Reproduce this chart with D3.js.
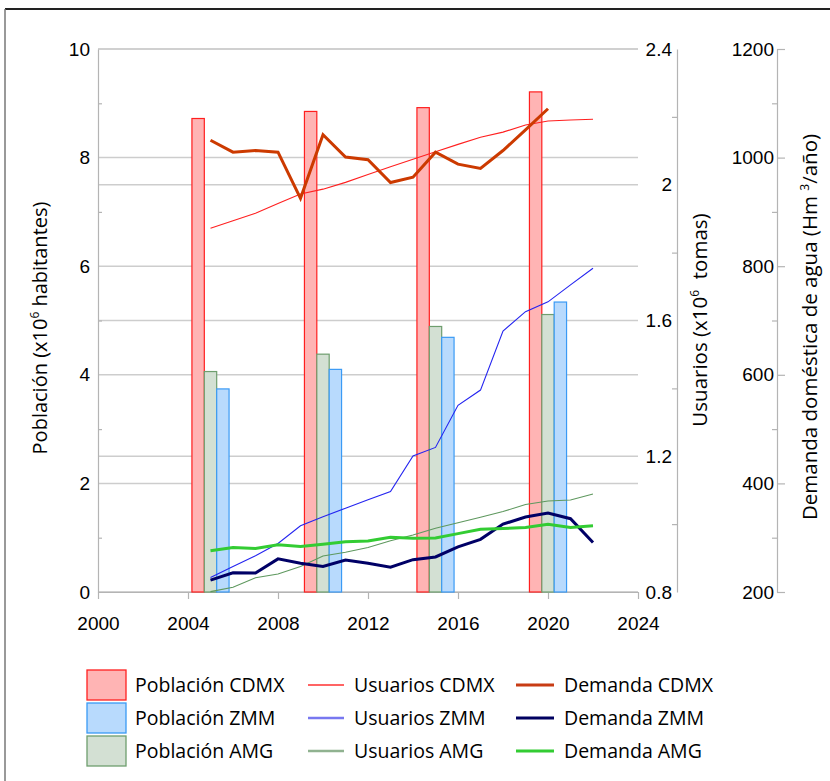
<!DOCTYPE html>
<html>
<head>
<meta charset="utf-8">
<script src="https://cdn.jsdelivr.net/npm/d3@7"></script>
<style>
  html, body { margin: 0; padding: 0; background: #fff; }
  svg { display: block; font-family: "Open Sans", "Noto Sans", sans-serif; }
  .tick text { fill: #000; }
</style>
</head>
<body>
<svg id="chart" width="830" height="781"></svg>
<script>
// Census years with population bars (millions of inhabitants)
const censusYears = [2005, 2010, 2015, 2020];
const poblacionCDMX = [8.72, 8.85, 8.92, 9.21];
const poblacionAMG  = [4.06, 4.38, 4.89, 5.11];
const poblacionZMM  = [3.74, 4.10, 4.69, 5.34];

// Yearly series
const years = [2005, 2006, 2007, 2008, 2009, 2010, 2011, 2012, 2013, 2014, 2015, 2016, 2017, 2018, 2019, 2020, 2021, 2022];
// Users (millions of water connections)
const usuariosCDMX = [1.872, 1.894, 1.916, 1.945, 1.973, 1.987, 2.007, 2.030, 2.053, 2.075, 2.097, 2.119, 2.140, 2.155, 2.176, 2.188, 2.191, 2.193];
const usuariosZMM  = [0.843, 0.875, 0.907, 0.943, 0.995, 1.022, 1.047, 1.072, 1.096, 1.201, 1.226, 1.350, 1.395, 1.569, 1.626, 1.655, 1.705, 1.754];
const usuariosAMG  = [0.801, 0.814, 0.842, 0.853, 0.875, 0.906, 0.917, 0.931, 0.951, 0.968, 0.988, 1.004, 1.020, 1.037, 1.058, 1.068, 1.071, 1.089];
// Domestic water demand (Hm3/year)
const demandaYearsCDMX = [2005, 2006, 2007, 2008, 2009, 2010, 2011, 2012, 2013, 2014, 2015, 2016, 2017, 2018, 2019, 2020];
const demandaCDMX = [1032, 1010, 1013, 1010, 925, 1042, 1001, 996, 954, 964, 1010, 988, 980, 1013, 1051, 1090];
const demandaZMM  = [222, 235.5, 235, 261, 253, 247, 259, 253, 245.5, 259.5, 264.5, 283, 297, 325, 338, 345.5, 335, 291];
const demandaAMG  = [276, 282, 280, 287, 284, 288, 292.6, 294, 301, 299, 299.5, 307.5, 315.5, 317, 319, 324.7, 319, 322];

// Tick values
const yearTicks = [2000, 2004, 2008, 2012, 2016, 2020, 2024];
const poblacionTicks = [0, 2, 4, 6, 8, 10];
const poblacionMinor = [1, 3, 5, 7, 9];
const usuariosTicks = [0.8, 1.2, 1.6, 2.0, 2.4];
const usuariosMinor = [1.0, 1.4, 1.8, 2.2];
const demandaTicks = [200, 400, 600, 800, 1000, 1200];
const demandaMinor = [300, 500, 700, 900, 1100];

const svg = d3.select("#chart");

// Layout
const plotLeft = 98, plotRight = 638, plotTop = 49, plotBottom = 592;
const usuAxisX = 677, demAxisX = 777;
const fontSize = 19;

const x = d3.scaleLinear().domain([2000, 2024]).range([plotLeft, plotRight]);
const yPob = d3.scaleLinear().domain([0, 10]).range([plotBottom, plotTop]);
const yUsu = d3.scaleLinear().domain([0.8, 2.4]).range([plotBottom, plotTop]);
const yDem = d3.scaleLinear().domain([200, 1200]).range([plotBottom, plotTop]);

// Outer frame
svg.append("line").attr("x1", 5).attr("x2", 830).attr("y1", 9).attr("y2", 9)
  .attr("stroke", "#222").attr("stroke-width", 2);
svg.append("line").attr("x1", 5).attr("x2", 5).attr("y1", 9).attr("y2", 781)
  .attr("stroke", "#777").attr("stroke-width", 1.5);

const gridColor = "#cdcdcd";
const axisColor = "#b4b4b4";

// Horizontal gridlines from the population and users scales
const grid = svg.append("g");
poblacionTicks.forEach(v => {
  grid.append("line").attr("x1", plotLeft).attr("x2", plotRight)
    .attr("y1", yPob(v)).attr("y2", yPob(v))
    .attr("stroke", gridColor).attr("stroke-width", 1.5);
});
usuariosTicks.forEach(v => {
  grid.append("line").attr("x1", plotLeft).attr("x2", plotRight)
    .attr("y1", yUsu(v)).attr("y2", yUsu(v))
    .attr("stroke", gridColor).attr("stroke-width", 1.5);
});

function styleAxis(g) {
  g.selectAll("path.domain").attr("stroke", axisColor).attr("stroke-width", 1.2);
  g.selectAll(".tick line").attr("stroke", axisColor).attr("stroke-width", 1.2);
  g.selectAll(".tick text").attr("font-size", fontSize).attr("font-family", null);
}

// Bottom axis (years)
const xAxis = svg.append("g").attr("transform", `translate(0,${plotBottom})`)
  .call(d3.axisBottom(x).tickValues(yearTicks).tickFormat(d3.format("d"))
    .tickSize(7).tickSizeOuter(0).tickPadding(18));
styleAxis(xAxis);
xAxis.selectAll(".tick text").attr("dy", "0.71em");

// Left axis (population)
const yAxisL = svg.append("g").attr("transform", `translate(${plotLeft},0)`)
  .call(d3.axisLeft(yPob).tickValues(poblacionTicks).tickFormat(d3.format("d"))
    .tickSize(0).tickPadding(8));
styleAxis(yAxisL);
const yAxisLMinor = svg.append("g").attr("transform", `translate(${plotLeft},0)`)
  .call(d3.axisRight(yPob).tickValues(poblacionMinor).tickFormat("").tickSize(4).tickSizeOuter(0));
styleAxis(yAxisLMinor);
yAxisLMinor.select("path.domain").remove();

// Users axis
const yAxisU = svg.append("g").attr("transform", `translate(${usuAxisX},0)`)
  .call(d3.axisLeft(yUsu).tickValues(usuariosTicks).tickFormat(d3.format(".1~f"))
    .tickSize(0).tickPadding(5));
styleAxis(yAxisU);
const yAxisUMinor = svg.append("g").attr("transform", `translate(${usuAxisX},0)`)
  .call(d3.axisLeft(yUsu).tickValues(usuariosMinor).tickFormat("").tickSize(5).tickSizeOuter(0));
styleAxis(yAxisUMinor);
yAxisUMinor.select("path.domain").remove();

// Demand axis
const yAxisD = svg.append("g").attr("transform", `translate(${demAxisX},0)`)
  .call(d3.axisLeft(yDem).tickValues(demandaTicks).tickFormat(d3.format("d"))
    .tickSizeInner(-8).tickSizeOuter(0).tickPadding(3));
styleAxis(yAxisD);
const yAxisDMinor = svg.append("g").attr("transform", `translate(${demAxisX},0)`)
  .call(d3.axisLeft(yDem).tickValues(demandaMinor).tickFormat("").tickSize(5).tickSizeOuter(0));
styleAxis(yAxisDMinor);
yAxisDMinor.select("path.domain").remove();

// Axis titles (rotated), with superscript exponents
function axisTitle(cx, cy, size, parts) {
  const t = svg.append("text")
    .attr("transform", `translate(${cx},${cy}) rotate(-90)`)
    .attr("text-anchor", "middle")
    .attr("font-size", size)
    .attr("fill", "#000")
    .style("white-space", "pre");
  parts.forEach(p => {
    const ts = t.append("tspan").text(p.text);
    if (p.sup) ts.attr("font-size", 12).attr("dy", -8);
    if (p.after) ts.attr("dy", 8);
  });
}
axisTitle(47, 328, 20, [
  { text: "Población (x10" }, { text: "6", sup: true }, { text: " habitantes)", after: true }
]);
axisTitle(707, 320, 20.5, [
  { text: "Usuarios (x10" }, { text: "6", sup: true }, { text: "\u00a0\u00a0tomas)", after: true }
]);
axisTitle(817, 327, 20.5, [
  { text: "Demanda doméstica de agua (Hm\u00a0" }, { text: "3", sup: true }, { text: "/año)", after: true }
]);

// Population bars, grouped around each census year
const barW = 0.55;
const barSeries = [
  { name: "Población CDMX", values: poblacionCDMX, fill: "#ffb4b4", stroke: "#ff1f1f", offset: -1.5 },
  { name: "Población AMG",  values: poblacionAMG,  fill: "#d3e0d3", stroke: "#6e9e6e", offset: -0.5 },
  { name: "Población ZMM",  values: poblacionZMM,  fill: "#b8dafd", stroke: "#3a9af5", offset: 0.5 }
];
const bars = svg.append("g");
barSeries.forEach(s => {
  bars.selectAll(null).data(censusYears.map((yr, i) => ({ yr, v: s.values[i] })))
    .join("rect")
    .attr("x", d => x(d.yr + s.offset * barW))
    .attr("width", x(barW) - x(0))
    .attr("y", d => yPob(d.v))
    .attr("height", d => yPob(0) - yPob(d.v))
    .attr("fill", s.fill)
    .attr("stroke", s.stroke)
    .attr("stroke-width", 1.2);
});

// Lines
const lineSeries = [
  { name: "Usuarios CDMX", xs: years, values: usuariosCDMX, scale: yUsu, color: "#ff2020", width: 1.1 },
  { name: "Usuarios ZMM",  xs: years, values: usuariosZMM,  scale: yUsu, color: "#2424f0", width: 1.1 },
  { name: "Usuarios AMG",  xs: years, values: usuariosAMG,  scale: yUsu, color: "#5e985e", width: 1.1 },
  { name: "Demanda CDMX",  xs: demandaYearsCDMX, values: demandaCDMX, scale: yDem, color: "#cc3a00", width: 3 },
  { name: "Demanda ZMM",   xs: years, values: demandaZMM,  scale: yDem, color: "#000066", width: 3 },
  { name: "Demanda AMG",   xs: years, values: demandaAMG,  scale: yDem, color: "#33cc33", width: 3 }
];
const lines = svg.append("g");
lineSeries.forEach(s => {
  const gen = d3.line().x((d, i) => x(s.xs[i])).y(d => s.scale(d));
  lines.append("path").attr("d", gen(s.values))
    .attr("fill", "none").attr("stroke", s.color)
    .attr("stroke-width", s.width).attr("stroke-linejoin", "miter");
});

// Legend
const legendCols = [
  [
    { label: "Población CDMX", type: "box", fill: "#ffb4b4", stroke: "#ff1f1f" },
    { label: "Población ZMM",  type: "box", fill: "#b8dafd", stroke: "#3a9af5" },
    { label: "Población AMG",  type: "box", fill: "#d3e0d3", stroke: "#6e9e6e" }
  ],
  [
    { label: "Usuarios CDMX", type: "line", color: "#ff3030", width: 1.5 },
    { label: "Usuarios ZMM",  type: "line", color: "#7878f0", width: 2.4 },
    { label: "Usuarios AMG",  type: "line", color: "#90b290", width: 2.4 }
  ],
  [
    { label: "Demanda CDMX", type: "line", color: "#c83c14", width: 3 },
    { label: "Demanda ZMM",  type: "line", color: "#000060", width: 3 },
    { label: "Demanda AMG",  type: "line", color: "#33cc33", width: 3 }
  ]
];
const colX = [87, 308, 516];
const colSymW = [39, 36, 38];
const colTextX = [135, 354, 564];
const rowY = [685, 718, 751];
const legend = svg.append("g");
legendCols.forEach((col, ci) => {
  col.forEach((item, ri) => {
    const cy = rowY[ri];
    if (item.type === "box") {
      legend.append("rect").attr("x", colX[ci]).attr("y", cy - 15)
        .attr("width", colSymW[ci]).attr("height", 30)
        .attr("fill", item.fill).attr("stroke", item.stroke).attr("stroke-width", 1.3);
    } else {
      legend.append("line").attr("x1", colX[ci]).attr("x2", colX[ci] + colSymW[ci])
        .attr("y1", cy).attr("y2", cy)
        .attr("stroke", item.color).attr("stroke-width", item.width);
    }
    legend.append("text").attr("x", colTextX[ci]).attr("y", cy + 7)
      .attr("font-size", 19.5).attr("fill", "#000").text(item.label);
  });
});
</script>
</body>
</html>
